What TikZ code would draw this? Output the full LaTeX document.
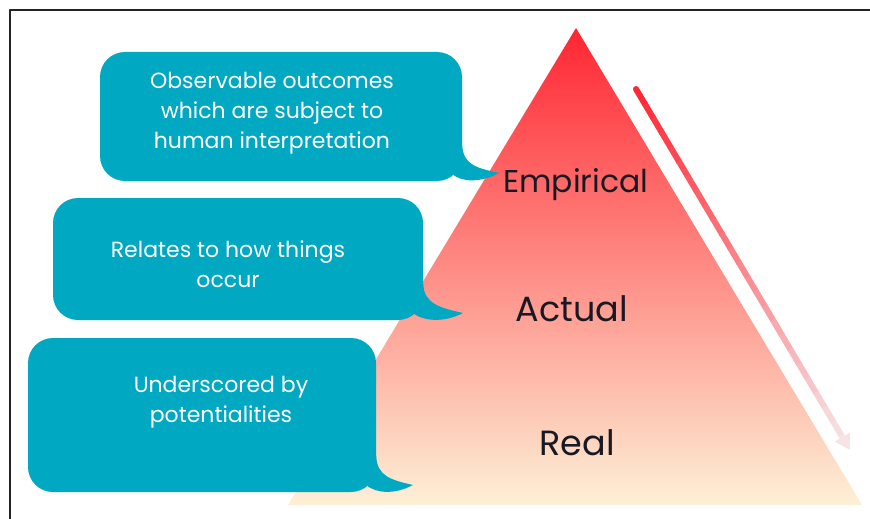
\documentclass[tikz,border=0pt]{standalone}
\usepackage{fontspec}
\setmainfont{Poppins}
\usetikzlibrary{calc,arrows.meta}
\definecolor{bubbleteal}{RGB}{0,168,193}
\definecolor{peakred}{RGB}{255,38,50}
\definecolor{basecream}{RGB}{253,240,214}
\definecolor{arrowred}{RGB}{255,40,52}
\definecolor{arrowfade}{RGB}{246,228,228}
\definecolor{labelink}{RGB}{25,25,35}
\definecolor{framegray}{RGB}{35,35,35}
\tikzset{
  bubble/.style={fill=bubbleteal, rounded corners=25pt, inner sep=0pt},
  bubbletext/.style={text=white, align=center, font=\fontsize{22}{30}\selectfont},
  levellabel/.style={text=labelink, font=\fontsize{#1}{#1}\selectfont},
}
% tail of a speech bubble: box name, tip coordinate
\newcommand{\bubbletail}[2]{%
  \fill[bubbleteal] ($(#1.south east)+(0,-36)$)
    .. controls ($(#1.south east)+(1,-16)$) and ($(#2)+(-22,-5)$) .. (#2)
    .. controls ($(#2)+(-19,10)$) and ($(#1.south east)+(0,1)$) .. ($(#1.south east)+(-10,-7)$) -- cycle;}
\begin{document}
\begin{tikzpicture}[x=1pt, y=-1pt, line join=round]
  \useasboundingbox (0,0) rectangle (870,519);
  % frame
  \draw[framegray, line width=1.4pt] (10,519) -- (10,10) -- (870,10);

  % pyramid
  \coordinate (apex) at (576,28);
  \coordinate (baseL) at (288,505);
  \coordinate (baseR) at (862,505);
  \shade[top color=peakred, bottom color=basecream] (apex) -- (baseL) -- (baseR) -- cycle;

  % arrow along the right side
  \coordinate (arrS) at (636,89);
  \coordinate (arrE) at (850,450);
  \foreach \k in {0,...,23}{
    \pgfmathsetmacro{\ta}{\k/25}
    \pgfmathsetmacro{\tb}{(\k+1)/25+0.003}
    \pgfmathtruncatemacro{\mix}{100-4.2*\k}
    \draw[line width=6pt, arrowred!\mix!arrowfade] ($(arrS)!\ta!(arrE)$) -- ($(arrS)!\tb!(arrE)$);
  }
  \fill[arrowred] (arrS) circle (3pt);
  \draw[line width=6pt, arrowfade, -{Triangle[width=17pt, length=15pt]}] ($(arrS)!0.96!(arrE)$) -- (arrE);

  % levels
  \node[levellabel=31.5] (empirical) at (576,185) {Empirical};
  \node[levellabel=35] (actual) at (572,309) {Actual};
  \node[levellabel=35] (real) at (577,443) {Real};

  % bubbles
  \node[bubble, minimum width=362pt, minimum height=129pt] (empBox) at (281,116.5) {};
  \coordinate (empTip) at (499,173);
  \bubbletail{empBox}{empTip}
  \node[bubbletext] (empTxt) at (272,113) {Observable outcomes\\which are subject to\\human interpretation};

  \node[bubble, minimum width=370pt, minimum height=122pt] (actBox) at (238,259) {};
  \coordinate (actTip) at (463,313);
  \bubbletail{actBox}{actTip}
  \node[bubbletext] (actTxt) at (228,264) {Relates to how things\\occur};

  \node[bubble, minimum width=348pt, minimum height=154pt] (realBox) at (202,415) {};
  \coordinate (realTip) at (413,485);
  \bubbletail{realBox}{realTip}
  \node[bubbletext] (realTxt) at (221,402) {Underscored by\\potentialities};
\end{tikzpicture}
\end{document}
